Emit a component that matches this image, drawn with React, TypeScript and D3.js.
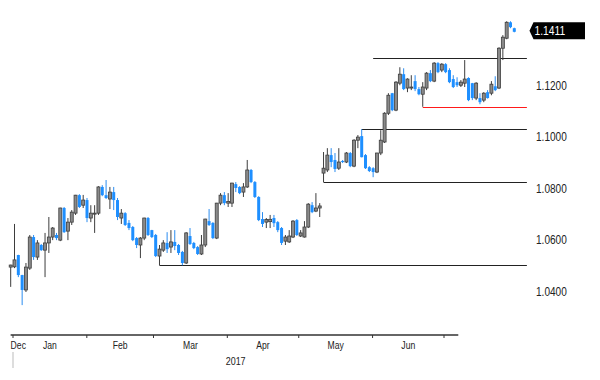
import React from "react";
import * as d3 from "d3";

// EUR/USD daily candles, 29 Dec 2016 -> 3 Jul 2017
const opens = [
  1.0495, 1.0496, 1.0542, 1.0464, 1.0406, 1.0491, 1.0612, 1.0534, 1.0581, 1.0561,
  1.0589, 1.0612, 1.0620, 1.0600, 1.0725, 1.0635, 1.0670, 1.0705, 1.0775, 1.0736,
  1.0756, 1.0686, 1.0703, 1.0705, 1.0807, 1.0775, 1.0760, 1.0787, 1.0756, 1.0686,
  1.0705, 1.0667, 1.0651, 1.0608, 1.0581, 1.0608, 1.0686, 1.0639, 1.0620, 1.0538,
  1.0561, 1.0589, 1.0573, 1.0593, 1.0581, 1.0554, 1.0511, 1.0616, 1.0589, 1.0573,
  1.0546, 1.0581, 1.0674, 1.0667, 1.0608, 1.0744, 1.0775, 1.0744, 1.0744, 1.0818,
  1.0807, 1.0787, 1.0807, 1.0873, 1.0826, 1.0768, 1.0682, 1.0670, 1.0672, 1.0686,
  1.0670, 1.0647, 1.0596, 1.0593, 1.0612, 1.0678, 1.0616, 1.0612, 1.0651, 1.0736,
  1.0713, 1.0725, 1.0861, 1.0873, 1.0931, 1.0912, 1.0880, 1.0908, 1.0904, 1.0939,
  1.0888, 1.0989, 1.1005, 1.0931, 1.0884, 1.0880, 1.0865, 1.0939, 1.0982, 1.1094,
  1.1172, 1.1106, 1.1211, 1.1246, 1.1192, 1.1192, 1.1219, 1.1188, 1.1168, 1.1192,
  1.1250, 1.1219, 1.1289, 1.1262, 1.1285, 1.1262, 1.1227, 1.1215, 1.1203, 1.1211,
  1.1231, 1.1211, 1.1153, 1.1153, 1.1145, 1.1176, 1.1172, 1.1199, 1.1192, 1.1347,
  1.1386, 1.1448, 1.1425,
];
const highs = [
  1.0504, 1.0663, 1.0543, 1.0465, 1.0511, 1.0620, 1.0620, 1.0600, 1.0585, 1.0628,
  1.0690, 1.0651, 1.0628, 1.0726, 1.0729, 1.0686, 1.0717, 1.0776, 1.0779, 1.0776,
  1.0764, 1.0736, 1.0736, 1.0810, 1.0814, 1.0834, 1.0807, 1.0807, 1.0764, 1.0721,
  1.0709, 1.0678, 1.0655, 1.0612, 1.0612, 1.0687, 1.0690, 1.0640, 1.0624, 1.0581,
  1.0600, 1.0631, 1.0639, 1.0639, 1.0585, 1.0558, 1.0631, 1.0647, 1.0593, 1.0577,
  1.0620, 1.0683, 1.0721, 1.0670, 1.0745, 1.0783, 1.0787, 1.0783, 1.0823, 1.0826,
  1.0810, 1.0822, 1.0912, 1.0877, 1.0830, 1.0771, 1.0709, 1.0686, 1.0698, 1.0698,
  1.0674, 1.0651, 1.0620, 1.0639, 1.0678, 1.0682, 1.0639, 1.0674, 1.0744, 1.0748,
  1.0783, 1.0744, 1.0943, 1.0958, 1.0958, 1.0939, 1.0958, 1.0912, 1.0943, 1.0943,
  1.0993, 1.1009, 1.1032, 1.0935, 1.0888, 1.0884, 1.0940, 1.1028, 1.1098, 1.1172,
  1.1173, 1.1219, 1.1273, 1.1269, 1.1230, 1.1242, 1.1242, 1.1196, 1.1215, 1.1254,
  1.1262, 1.1293, 1.1293, 1.1289, 1.1289, 1.1269, 1.1242, 1.1234, 1.1223, 1.1301,
  1.1234, 1.1212, 1.1215, 1.1172, 1.1176, 1.1184, 1.1219, 1.1238, 1.1351, 1.1398,
  1.1452, 1.1452, 1.1427,
];
const lows = [
  1.0418, 1.0491, 1.0456, 1.0347, 1.0398, 1.0484, 1.0523, 1.0523, 1.0558, 1.0456,
  1.0550, 1.0600, 1.0600, 1.0596, 1.0628, 1.0600, 1.0659, 1.0698, 1.0725, 1.0725,
  1.0670, 1.0670, 1.0628, 1.0698, 1.0771, 1.0760, 1.0721, 1.0717, 1.0678, 1.0663,
  1.0655, 1.0639, 1.0596, 1.0569, 1.0530, 1.0600, 1.0616, 1.0608, 1.0534, 1.0502,
  1.0554, 1.0550, 1.0550, 1.0561, 1.0542, 1.0502, 1.0507, 1.0581, 1.0565, 1.0542,
  1.0542, 1.0573, 1.0655, 1.0604, 1.0604, 1.0736, 1.0736, 1.0729, 1.0729, 1.0787,
  1.0779, 1.0768, 1.0803, 1.0822, 1.0764, 1.0674, 1.0651, 1.0647, 1.0647, 1.0651,
  1.0631, 1.0581, 1.0581, 1.0589, 1.0608, 1.0616, 1.0612, 1.0610, 1.0647, 1.0705,
  1.0709, 1.0690, 1.0826, 1.0865, 1.0884, 1.0865, 1.0873, 1.0900, 1.0900, 1.0884,
  1.0884, 1.0958, 1.0922, 1.0877, 1.0865, 1.0845, 1.0861, 1.0931, 1.0978, 1.1087,
  1.1102, 1.1102, 1.1203, 1.1184, 1.1176, 1.1184, 1.1180, 1.1164, 1.1119, 1.1184,
  1.1215, 1.1215, 1.1250, 1.1254, 1.1250, 1.1211, 1.1192, 1.1196, 1.1196, 1.1196,
  1.1141, 1.1145, 1.1145, 1.1129, 1.1137, 1.1151, 1.1164, 1.1180, 1.1188, 1.1301,
  1.1382, 1.1425, 1.1409,
];
const closes = [
  1.0503, 1.0523, 1.0464, 1.0406, 1.0495, 1.0612, 1.0534, 1.0589, 1.0561, 1.0589,
  1.0612, 1.0647, 1.0608, 1.0725, 1.0631, 1.0670, 1.0709, 1.0775, 1.0729, 1.0756,
  1.0686, 1.0705, 1.0705, 1.0807, 1.0775, 1.0764, 1.0787, 1.0756, 1.0690, 1.0705,
  1.0659, 1.0647, 1.0600, 1.0581, 1.0608, 1.0686, 1.0620, 1.0612, 1.0538, 1.0565,
  1.0589, 1.0565, 1.0593, 1.0577, 1.0550, 1.0511, 1.0628, 1.0585, 1.0569, 1.0546,
  1.0581, 1.0682, 1.0659, 1.0608, 1.0744, 1.0775, 1.0744, 1.0750, 1.0822, 1.0803,
  1.0783, 1.0807, 1.0873, 1.0826, 1.0768, 1.0678, 1.0663, 1.0680, 1.0681, 1.0666,
  1.0639, 1.0589, 1.0612, 1.0616, 1.0674, 1.0620, 1.0628, 1.0651, 1.0740, 1.0709,
  1.0725, 1.0733, 1.0880, 1.0931, 1.0904, 1.0877, 1.0904, 1.0904, 1.0939, 1.0888,
  1.0989, 1.1001, 1.0923, 1.0880, 1.0869, 1.0865, 1.0939, 1.0989, 1.1094, 1.1164,
  1.1106, 1.1215, 1.1246, 1.1188, 1.1227, 1.1196, 1.1188, 1.1168, 1.1196, 1.1250,
  1.1219, 1.1289, 1.1254, 1.1285, 1.1254, 1.1215, 1.1196, 1.1203, 1.1215, 1.1227,
  1.1145, 1.1153, 1.1211, 1.1137, 1.1172, 1.1153, 1.1207, 1.1184, 1.1347, 1.1390,
  1.1448, 1.1429, 1.1411,
];

// horizontal support / resistance levels (price, first candle index)
const levelPrices = [1.0502, 1.0826, 1.1031, 1.131, 1.1119];
const levelStarts = [39, 82, 92, 95, 108];
const redLevelIndex = 4;
const levelEndIndex = 135.3;

const yTicks = [1.04, 1.06, 1.08, 1.1, 1.12];
const monthLabels = ["Dec", "Jan", "Feb", "Mar", "Apr", "May", "Jun"];
const yearLabel = "2017";

const W = 600;
const H = 380;
const FONT = "'Liberation Sans', Arial, sans-serif";

function NText(props: {
  x: number;
  y: number;
  sx: number;
  size: number;
  fill: string;
  anchor?: string;
  children: React.ReactNode;
}) {
  const { x, y, sx, size, fill, anchor, children } = props;
  return (
    <text
      transform={`translate(${x},${y}) scale(${sx},1)`}
      fontSize={size}
      fill={fill}
      textAnchor={anchor || "start"}
      fontFamily={FONT}
    >
      {children}
    </text>
  );
}

export default function App() {
  const n = closes.length;
  const x = d3.scaleLinear().domain([0, n - 1]).range([10.7, 514.3]);
  const y = d3.scaleLinear().domain([1.04, 1.12]).range([291.5, 86]);

  const xt = d3
    .scaleTime()
    .domain([new Date(2017, 0, 1), new Date(2017, 6, 1)])
    .range([13, 444]);
  const axisStart = new Date(2016, 11, 31);
  const axisEnd = new Date(2017, 6, 7);
  const monthStarts = d3.timeMonth.range(new Date(2017, 0, 1), new Date(2017, 6, 2));
  const axisY = 335;

  const bw = 3;
  const last = closes[n - 1];
  const ly = y(last);

  return (
    <svg
      width={W}
      height={H}
      style={{ position: "absolute", left: 0, top: 0, background: "#fff" }}
    >
      {/* levels */}
      {levelPrices.map((p, k) => (
        <line
          key={"lv" + k}
          x1={x(levelStarts[k])}
          x2={x(levelEndIndex)}
          y1={Math.round(y(p)) + 0.5}
          y2={Math.round(y(p)) + 0.5}
          stroke={k === redLevelIndex ? "#ff1a1a" : "#222"}
          strokeWidth={1.2}
        />
      ))}

      {/* candles */}
      {closes.map((c, i) => {
        const o = opens[i];
        const up = c >= o;
        const cx = x(i);
        const top = y(Math.max(o, c));
        const bot = y(Math.min(o, c));
        const h = Math.max(1, bot - top);
        return (
          <g key={i}>
            <line
              x1={cx}
              x2={cx}
              y1={y(highs[i])}
              y2={y(lows[i])}
              stroke={up ? "#3d3d3d" : "#2a8cf0"}
              strokeWidth={1}
            />
            <rect
              x={cx - bw / 2}
              y={top}
              width={bw}
              height={h}
              fill={up ? "#8a8a8a" : "#1e8fff"}
              stroke={up ? "#3d3d3d" : "none"}
              strokeWidth={up ? 0.8 : 0}
            />
          </g>
        );
      })}

      {/* right axis labels */}
      {yTicks.map((t) => (
        <NText key={t} x={536} y={y(t) + 4} sx={0.84} size={12} fill="#222">
          {t.toFixed(4)}
        </NText>
      ))}

      {/* last price tag */}
      <path
        d={`M529.5,${ly - 1} L533.5,${ly - 9.5} L585,${ly - 9.5} L585,${ly + 7.5} L533.5,${ly + 7.5} Z`}
        fill="#000"
      />
      <NText x={534.5} y={ly + 3.5} sx={0.86} size={12} fill="#fff">
        {last.toFixed(4)}
      </NText>

      {/* time axis */}
      <line
        x1={xt(axisStart)}
        x2={xt(axisEnd)}
        y1={axisY}
        y2={axisY}
        stroke="#333"
        strokeWidth={1.3}
      />
      {monthStarts.map((m, k) => (
        <line
          key={"mt" + k}
          x1={xt(m)}
          x2={xt(m)}
          y1={axisY}
          y2={axisY + 3}
          stroke="#333"
          strokeWidth={1}
        />
      ))}
      {monthLabels.map((lab, k) => {
        if (k === 0) {
          return (
            <NText key={lab} x={xt(axisStart)} y={axisY + 14} sx={0.75} size={11.5} fill="#222">
              {lab}
            </NText>
          );
        }
        const s = monthStarts[k - 1];
        const e = monthStarts[k];
        const mid = (xt(s) + xt(e)) / 2;
        return (
          <NText key={lab} x={mid} y={axisY + 14} sx={0.75} size={11.5} fill="#222" anchor="middle">
            {lab}
          </NText>
        );
      })}
      <line
        x1={xt(monthStarts[0])}
        x2={xt(monthStarts[0])}
        y1={axisY + 17}
        y2={axisY + 33}
        stroke="#bbb"
        strokeWidth={1}
      />
      <NText
        x={(xt(monthStarts[0]) + xt(axisEnd)) / 2}
        y={axisY + 30}
        sx={0.78}
        size={11.5}
        fill="#222"
        anchor="middle"
      >
        {yearLabel}
      </NText>
    </svg>
  );
}
